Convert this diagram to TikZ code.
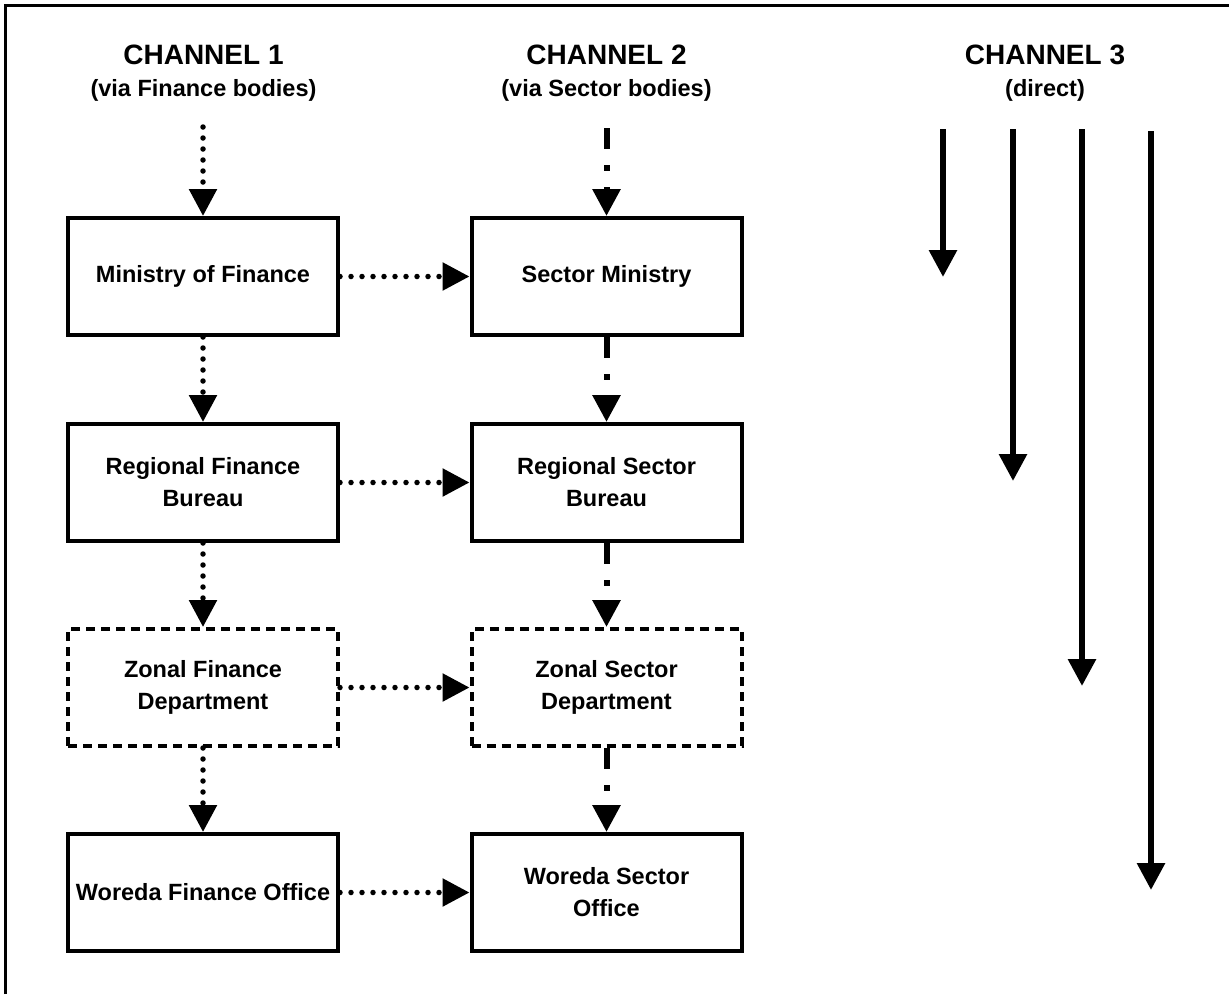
\documentclass[tikz,border=0pt]{standalone}
\usepackage{fontspec}
\setmainfont{Liberation Sans}
\usetikzlibrary{arrows.meta}
\tikzset{
  bx/.style={draw, line width=4pt, minimum width=270pt, minimum height=117pt, inner sep=0pt, align=center,
    font=\fontsize{23.5pt}{32pt}\selectfont\bfseries},
  zbx/.style={bx, dash pattern=on 9pt off 6pt},
  hd/.style={align=center, inner sep=0pt},
  tip/.style={-{Triangle[length=27pt,width=27pt]}},
  dotarrow/.style={tip, line width=5.5pt, line cap=round, dash pattern=on 0pt off 11pt},
  dasharrow/.style={tip, line width=6pt, dash pattern=on 21pt off 16pt on 6pt off 16pt},
  solidarrow/.style={tip, line width=6pt},
}
\begin{document}
\begin{tikzpicture}[x=1pt,y=-1pt]
\useasboundingbox (0,0) rectangle (1229,994);
\draw[line width=3pt] (5,994) -- (5,5) -- (1229,5);

% headings
\node[hd, font=\fontsize{28pt}{30pt}\selectfont\bfseries] (h1) at (203.5,55) {CHANNEL 1};
\node[hd, font=\fontsize{23.5pt}{26pt}\selectfont\bfseries] (s1) at (203.5,90) {(via Finance bodies)};
\node[hd, font=\fontsize{28pt}{30pt}\selectfont\bfseries] (h2) at (606.5,55) {CHANNEL 2};
\node[hd, font=\fontsize{23.5pt}{26pt}\selectfont\bfseries] (s2) at (606.5,90) {(via Sector bodies)};
\node[hd, font=\fontsize{28pt}{30pt}\selectfont\bfseries] (h3) at (1045,55) {CHANNEL 3};
\node[hd, font=\fontsize{23.5pt}{26pt}\selectfont\bfseries] (s3) at (1045,90) {(direct)};

% boxes
\node[bx]  (mof) at (203,276.5) {Ministry of Finance};
\node[bx]  (sm)  at (606.5,276.5) {Sector Ministry};
\node[bx]  (rfb) at (203,482.5) {Regional Finance\\Bureau};
\node[bx]  (rsb) at (606.5,482.5) {Regional Sector\\Bureau};
\node[zbx] (zfd) at (203,687.5) {Zonal Finance\\Department};
\node[zbx] (zsd) at (606.5,687.5) {Zonal Sector\\Department};
\node[bx]  (wfo) at (203,892.5) {Woreda Finance Office};
\node[bx]  (wso) at (606.5,892.5) {Woreda Sector\\Office};

% channel 1
\coordinate (c1top) at (203,127);
\draw[dotarrow] (c1top) -- (mof.north);
\draw[dotarrow] (mof.south) -- (rfb.north);
\draw[dotarrow] (rfb.south) -- (zfd.north);
\draw[dotarrow] (zfd.south) -- (wfo.north);

% channel 2
\coordinate (c2top) at (606.5,128);
\draw[dasharrow] (c2top) -- (sm.north);
\draw[dasharrow] (sm.south) -- (rsb.north);
\draw[dasharrow] (rsb.south) -- (zsd.north);
\draw[dasharrow] (zsd.south) -- (wso.north);

% horizontal
\draw[dotarrow] (mof.east) -- (sm.west);
\draw[dotarrow] (rfb.east) -- (rsb.west);
\draw[dotarrow] (zfd.east) -- (zsd.west);
\draw[dotarrow] (wfo.east) -- (wso.west);

% channel 3
\coordinate (a1s) at (943,129); \coordinate (a1e) at (943,277);
\coordinate (a2s) at (1013,129); \coordinate (a2e) at (1013,481);
\coordinate (a3s) at (1082,129); \coordinate (a3e) at (1082,686);
\coordinate (a4s) at (1151,131); \coordinate (a4e) at (1151,890);
\draw[solidarrow] (a1s) -- (a1e);
\draw[solidarrow] (a2s) -- (a2e);
\draw[solidarrow] (a3s) -- (a3e);
\draw[solidarrow] (a4s) -- (a4e);
\end{tikzpicture}
\end{document}
